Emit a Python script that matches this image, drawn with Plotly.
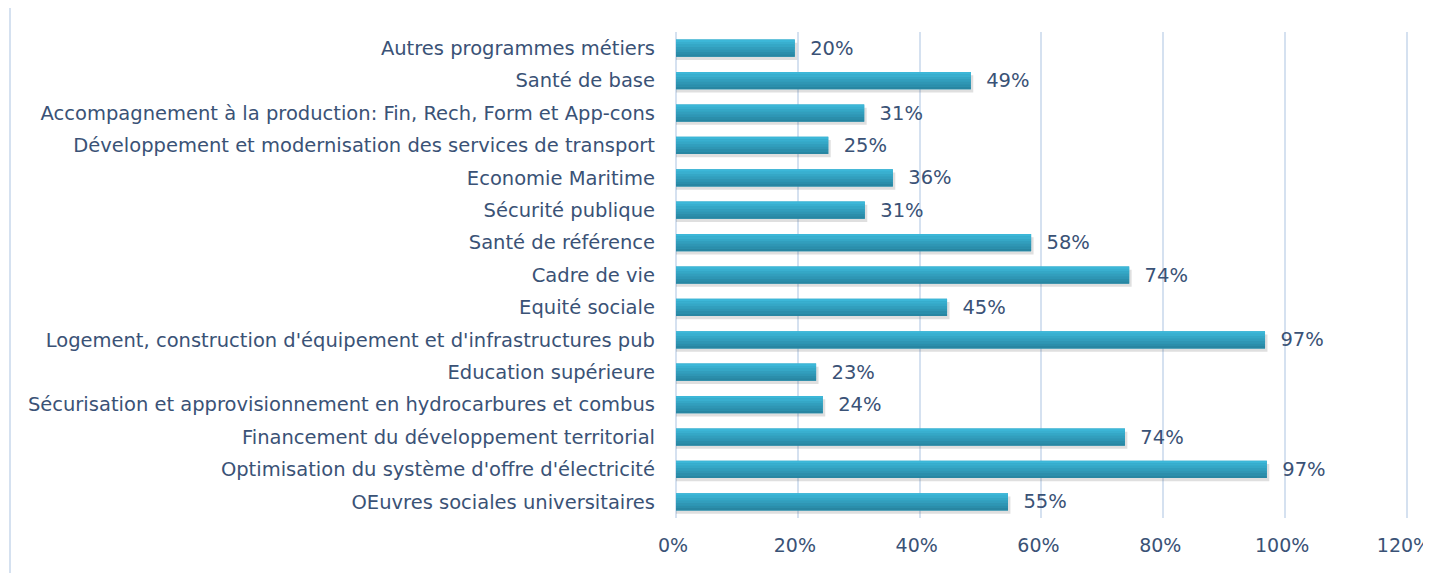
import plotly.graph_objects as go

categories = [
    "Autres programmes métiers",
    "Santé de base",
    "Accompagnement à la production: Fin, Rech, Form et App-cons",
    "Développement et modernisation des services de transport",
    "Economie Maritime",
    "Sécurité publique",
    "Santé de référence",
    "Cadre de vie",
    "Equité sociale",
    "Logement, construction d'équipement et d'infrastructures pub",
    "Education supérieure",
    "Sécurisation et approvisionnement en hydrocarbures et combus",
    "Financement du développement territorial",
    "Optimisation du système d'offre d'électricité",
    "OEuvres sociales universitaires",
]
values = [0.195, 0.484, 0.309, 0.250, 0.356, 0.310, 0.583, 0.744, 0.445,
          0.967, 0.230, 0.241, 0.737, 0.970, 0.545]
labels = ["20%", "49%", "31%", "25%", "36%", "31%", "58%", "74%", "45%",
          "97%", "23%", "24%", "74%", "97%", "55%"]
tick_vals = [0, 0.2, 0.4, 0.6, 0.8, 1.0, 1.2]
tick_text = ["0%", "20%", "40%", "60%", "80%", "100%", "120%"]

FONT = "DejaVu Sans, sans-serif"
FS = 19.5
TXT = "#3A5276"
GRID = "#D5E1F0"

# page body has an 8px margin; figure coordinates = reference - 8
W, H = 1431, 565
L, T = 668, 24
X_MAX = 1.205
PLOT_R = L + round(X_MAX * 609)
PLOT_B = 510

BAR_W = 0.53
top_col = (0x3C, 0xB7, 0xD8)
bot_col = (0x28, 0x86, 0xA2)
N_STRIPES = 7

fig = go.Figure()
# soft shadow
fig.add_trace(go.Bar(
    y=categories, x=[v + 0.004 for v in values], orientation="h",
    width=BAR_W, offset=-BAR_W / 2 + 0.1,
    marker=dict(color="rgba(80,80,80,0.18)", line=dict(width=0)),
    hoverinfo="skip",
))
# base bar with labels
fig.add_trace(go.Bar(
    y=categories, x=values, orientation="h",
    width=BAR_W, offset=-BAR_W / 2,
    marker=dict(color="#30A3C3", line=dict(width=0)),
    text=["  " + l for l in labels], textposition="outside",
    constraintext="none",
    textfont=dict(family=FONT, size=FS, color=TXT),
    cliponaxis=False,
))
# vertical gradient stripes
sw = BAR_W / N_STRIPES
for i in range(N_STRIPES):
    t = i / (N_STRIPES - 1)
    c = tuple(round(top_col[k] + (bot_col[k] - top_col[k]) * t) for k in range(3))
    fig.add_trace(go.Bar(
        y=categories, x=values, orientation="h",
        width=sw + 0.002, offset=-BAR_W / 2 + i * sw,
        marker=dict(color="rgb(%d,%d,%d)" % c, line=dict(width=0)),
        hoverinfo="skip",
    ))

plot_h = PLOT_B - T
fig.update_layout(
    width=W, height=H,
    barmode="overlay",
    margin=dict(l=L, r=W - PLOT_R, t=T, b=H - PLOT_B, autoexpand=False),
    paper_bgcolor="white", plot_bgcolor="white",
    showlegend=False,
    font=dict(family=FONT, size=FS, color=TXT),
    xaxis=dict(range=[0, X_MAX], tickvals=tick_vals, ticktext=tick_text,
               showgrid=True, gridcolor=GRID, gridwidth=2,
               zeroline=True, zerolinecolor=GRID, zerolinewidth=2,
               showline=False, ticks="", ticklabelstandoff=14,
               ticklabelshift=-3,
               ticklabeloverflow="allow",
               tickfont=dict(family=FONT, size=19, color=TXT)),
    yaxis=dict(autorange="reversed", showgrid=False, ticks="",
               ticklabelstandoff=20,
               tickfont=dict(family=FONT, size=FS, color=TXT)),
    shapes=[dict(type="rect", xref="paper", yref="paper",
                 x0=(2 - L) / (PLOT_R - L), x1=1.2,
                 y0=-0.5, y1=1.0 + (T + 3) / plot_h,
                 line=dict(color=GRID, width=2), layer="below")],
)
fig.write_html("out.html")
